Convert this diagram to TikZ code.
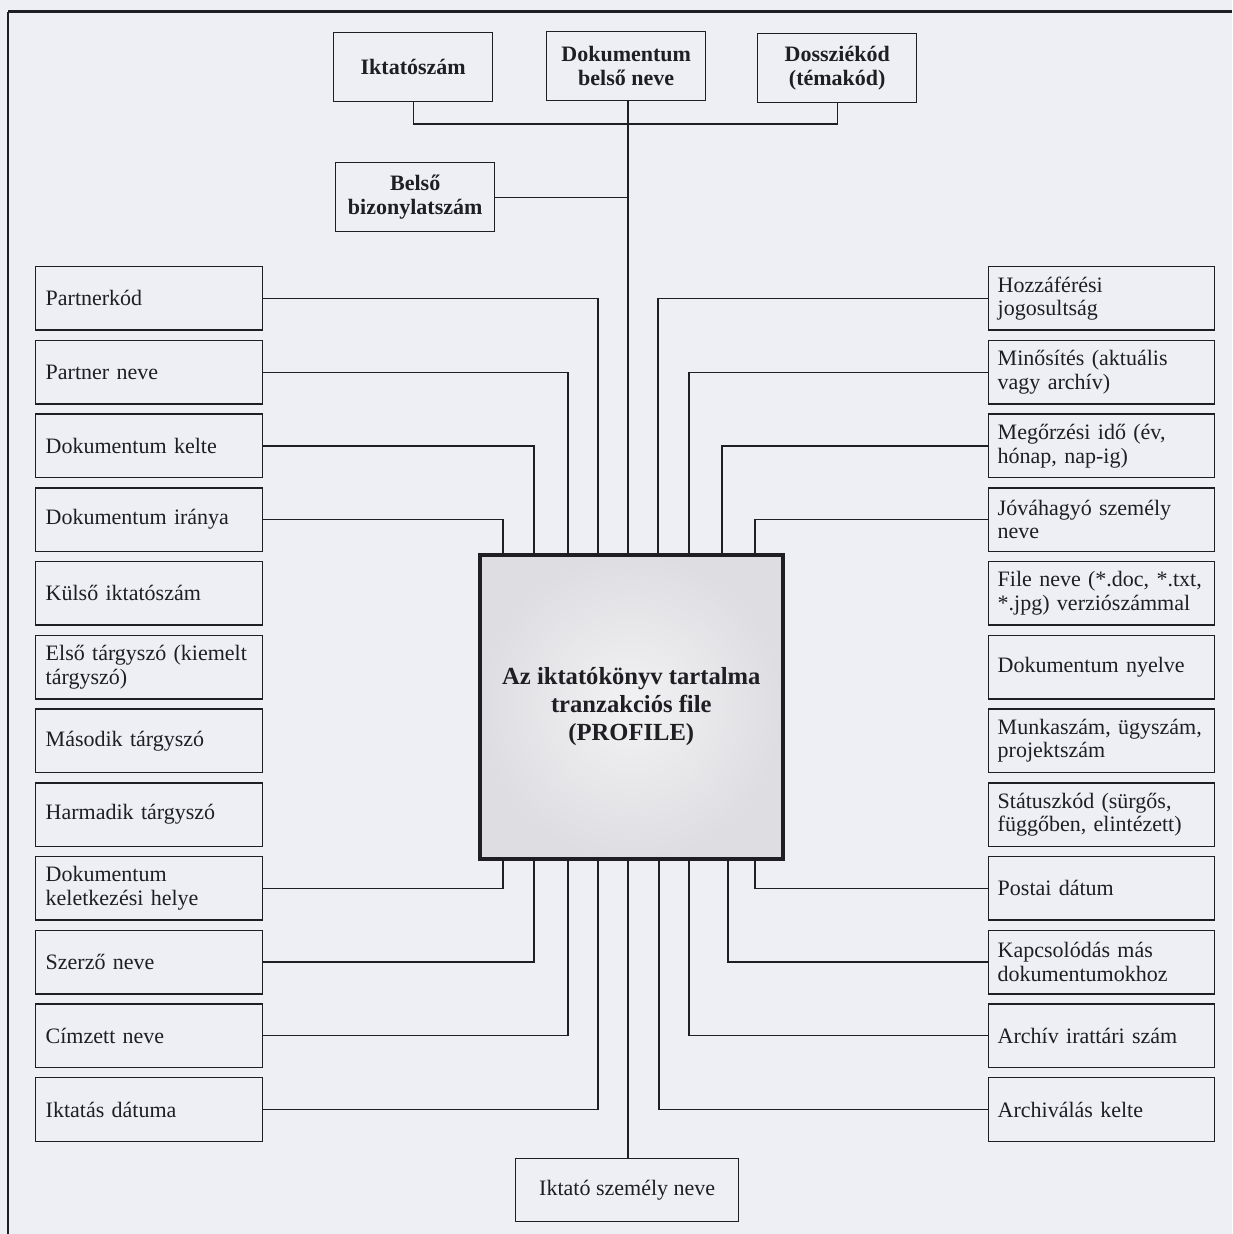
\documentclass[tikz,border=0pt]{standalone}
\usepackage{fontspec}
\setmainfont{Liberation Serif}
\definecolor{pagebg}{RGB}{237,239,245}
\definecolor{ink}{RGB}{30,30,35}
\definecolor{shadeout}{RGB}{222,222,226}
\definecolor{shadein}{RGB}{242,242,244}
\tikzset{
  box/.style={draw=ink, line width=0.7pt, minimum width=113.5pt, minimum height=31.75pt,
    inner xsep=5pt, text width=103.5pt, align=left, anchor=north west, text=ink,
    font=\fontsize{11pt}{11.8pt}\selectfont},
  rbox/.style={box, minimum width=113pt, inner xsep=4.5pt, text width=104pt},
  tbox/.style={draw=ink, line width=0.7pt, minimum width=79.5pt, minimum height=34.5pt,
    align=center, anchor=north west, text=ink, inner sep=1pt,
    font=\fontsize{11pt}{11.8pt}\selectfont\bfseries},
  link/.style={draw=ink, line width=0.6pt},
}
\begin{document}
\begin{tikzpicture}[x=0.5pt,y=-0.5pt]
\path[use as bounding box, fill=pagebg] (0,0) rectangle (1232,1234);
% frame
\draw[ink, line width=1.5pt] (8,12) -- (1232,12);
\draw[ink, line width=0.7pt] (8,12) -- (8,1234);

% top boxes
\node[tbox] (ikt) at (333,32) {Iktatószám};
\node[tbox] (dok) at (546,31) {Dokumentum\\belső neve};
\node[tbox] (dossz) at (757,33) {Dossziékód\\(témakód)};
\node[tbox] (bel) at (335,162) {Belső\\bizonylatszám};

% centre box
\node[draw=ink, line width=1.8pt, minimum width=151.5pt, minimum height=152pt,
  anchor=north west, shading=radial, inner color=shadein, outer color=shadeout,
  align=center, text=ink, font=\fontsize{12.3pt}{14pt}\selectfont\bfseries]
  (C) at (478,553) {Az iktatókönyv tartalma\\tranzakciós file\\(PROFILE)};

% left column
\node[box] (l1) at (35,266) {Partnerkód};
\node[box] (l2) at (35,339.7) {Partner neve};
\node[box] (l3) at (35,413.5) {Dokumentum kelte};
\node[box] (l4) at (35,487.2) {Dokumentum iránya};
\node[box] (l5) at (35,560.9) {Külső iktatószám};
\node[box] (l6) at (35,634.7) {Első tárgyszó (kiemelt\\tárgyszó)};
\node[box] (l7) at (35,708.4) {Második tárgyszó};
\node[box] (l8) at (35,782.1) {Harmadik tárgyszó};
\node[box] (l9) at (35,855.8) {Dokumentum\\keletkezési helye};
\node[box] (l10) at (35,929.6) {Szerző neve};
\node[box] (l11) at (35,1003.3) {Címzett neve};
\node[box] (l12) at (35,1077) {Iktatás dátuma};

% right column
\node[rbox] (r1) at (988,266) {Hozzáférési\\jogosultság};
\node[rbox] (r2) at (988,339.7) {Minősítés (aktuális\\vagy archív)};
\node[rbox] (r3) at (988,413.5) {Megőrzési idő (év,\\hónap, nap-ig)};
\node[rbox] (r4) at (988,487.2) {Jóváhagyó személy\\neve};
\node[rbox] (r5) at (988,560.9) {File neve (*.doc, *.txt,\\{}*.jpg) verziószámmal};
\node[rbox] (r6) at (988,634.7) {Dokumentum nyelve};
\node[rbox] (r7) at (988,708.4) {Munkaszám, ügyszám,\\projektszám};
\node[rbox] (r8) at (988,782.1) {Státuszkód (sürgős,\\függőben, elintézett)};
\node[rbox] (r9) at (988,855.8) {Postai dátum};
\node[rbox] (r10) at (988,929.6) {Kapcsolódás más\\dokumentumokhoz};
\node[rbox] (r11) at (988,1003.3) {Archív irattári szám};
\node[rbox] (r12) at (988,1077) {Archiválás kelte};

% bottom box
\node[draw=ink, line width=0.7pt, minimum width=111.5pt, minimum height=31.5pt,
  anchor=north west, text=ink, font=\fontsize{11pt}{11.8pt}\selectfont]
  (isz) at (515,1158) {Iktató személy neve};

% trunk connectors
\coordinate (ct) at ([xshift=75pt]C.north west);
\coordinate (cb) at ([xshift=75pt]C.south west);
\coordinate (tj) at (628,124);
\draw[link] (ct) -- (ct |- dok.south);
\draw[link] (ikt.south) |- (tj) -| (dossz.south);
\draw[link] (bel.east) -- (bel.east -| ct);
\draw[link] (cb) -- (cb |- isz.north);

% left connectors
\draw[link] (l1.east) -| ([xshift=60pt]C.north west);
\draw[link] (l2.east) -| ([xshift=45pt]C.north west);
\draw[link] (l3.east) -| ([xshift=28pt]C.north west);
\draw[link] (l4.east) -| ([xshift=12.5pt]C.north west);
\draw[link] (l9.east) -| ([xshift=12.5pt]C.south west);
\draw[link] (l10.east) -| ([xshift=28pt]C.south west);
\draw[link] (l11.east) -| ([xshift=45pt]C.south west);
\draw[link] (l12.east) -| ([xshift=60pt]C.south west);

% right connectors
\draw[link] (r1.west) -| ([xshift=90pt]C.north west);
\draw[link] (r2.west) -| ([xshift=105.5pt]C.north west);
\draw[link] (r3.west) -| ([xshift=122pt]C.north west);
\draw[link] (r4.west) -| ([xshift=138.5pt]C.north west);
\draw[link] (r9.west) -| ([xshift=138.5pt]C.south west);
\draw[link] (r10.west) -| ([xshift=125pt]C.south west);
\draw[link] (r11.west) -| ([xshift=105.5pt]C.south west);
\draw[link] (r12.west) -| ([xshift=90.5pt]C.south west);
\end{tikzpicture}
\end{document}
